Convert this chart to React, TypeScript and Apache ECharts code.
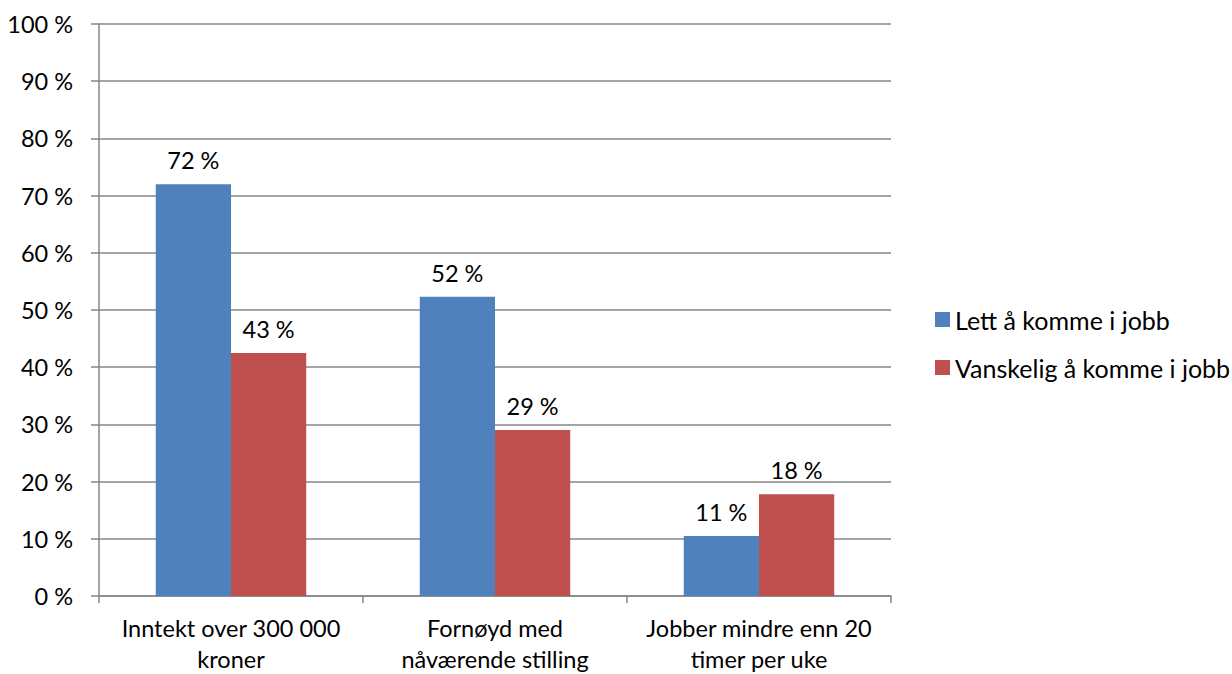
import React, { useEffect, useRef } from "react";
import * as echarts from "echarts";

const categories = [
  "Inntekt over 300 000\nkroner",
  "Fornøyd med\nnåværende stilling",
  "Jobber mindre enn 20\ntimer per uke",
];
const seriesNames = ["Lett å komme i jobb", "Vanskelig å komme i jobb"];
const lettValues = [72.0, 52.3, 10.5];
const vanskeligValues = [42.5, 29.0, 17.8];
const yTicks = [0, 10, 20, 30, 40, 50, 60, 70, 80, 90, 100];

const FONT = "Lato";
const FS = 23.5;

export default function App() {
  const ref = useRef<HTMLDivElement>(null);
  useEffect(() => {
    if (!ref.current) return;
    const chart = echarts.init(ref.current, undefined, { renderer: "svg" });
    const labelCfg = {
      show: true,
      position: "top",
      distance: 12,
      color: "#000",
      fontFamily: FONT,
      fontSize: FS,
      formatter: (p: any) => `${Math.round(p.value)} %`,
    };
    chart.setOption({
      animation: false,
      textStyle: { fontFamily: FONT },
      grid: {
        left: 99,
        right: 341,
        top: 24,
        bottom: 78,
        containLabel: false,
        outerBoundsMode: "none",
      },
      legend: {
        orient: "vertical",
        left: 930,
        top: 302,
        itemWidth: 15,
        itemHeight: 15,
        itemGap: 23,
        icon: "rect",
        textStyle: { fontFamily: FONT, fontSize: 25, color: "#000" },
        data: seriesNames,
      },
      xAxis: {
        type: "category",
        data: categories,
        axisLine: { lineStyle: { color: "#868686", width: 1.5 } },
        axisTick: { show: true, length: 7, lineStyle: { color: "#868686", width: 1.5 } },
        axisLabel: {
          color: "#000",
          fontFamily: FONT,
          fontSize: FS,
          lineHeight: 31,
          margin: 16,
          interval: 0,
        },
      },
      yAxis: {
        type: "value",
        min: yTicks[0],
        max: yTicks[yTicks.length - 1],
        interval: 10,
        axisLine: { show: true, lineStyle: { color: "#868686", width: 1.5 } },
        axisTick: { show: true, length: 8, lineStyle: { color: "#868686", width: 1.5 } },
        splitLine: { show: true, lineStyle: { color: "#868686", width: 1.5 } },
        axisLabel: {
          color: "#000",
          fontFamily: FONT,
          fontSize: FS,
          margin: 26,
          formatter: "{value} %",
        },
      },
      series: [
        {
          name: seriesNames[0],
          type: "bar",
          data: lettValues,
          barGap: "0%",
          barCategoryGap: "43%",
          itemStyle: { color: "#4F81BD" },
          label: labelCfg,
        },
        {
          name: seriesNames[1],
          type: "bar",
          data: vanskeligValues,
          barGap: "0%",
          barCategoryGap: "43%",
          itemStyle: { color: "#C0504D" },
          label: labelCfg,
        },
      ],
    });
    return () => chart.dispose();
  }, []);
  return (
    <div
      ref={ref}
      style={{ position: "absolute", left: 0, top: 0, width: 1232, height: 674 }}
    />
  );
}
